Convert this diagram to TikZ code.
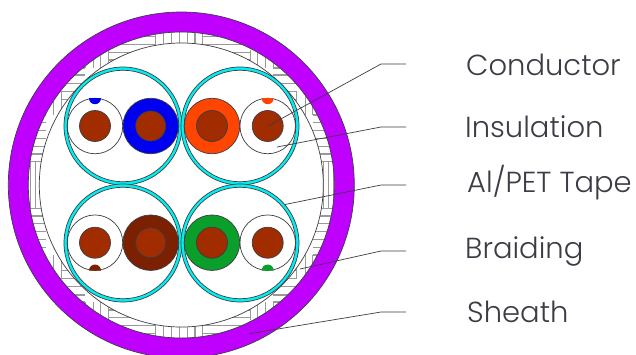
\documentclass[tikz,border=0pt]{standalone}
\usepackage{fontspec}
\setmainfont{Poppins Light}
\definecolor{jacket}{HTML}{BF00FF}
\definecolor{tape}{HTML}{00F0F0}
\definecolor{copper}{HTML}{A02C00}
\definecolor{brownwire}{HTML}{7B2000}
\definecolor{greenwire}{HTML}{0A9E2A}
\definecolor{orangewire}{HTML}{FF4500}
\definecolor{bluewire}{HTML}{0000F0}
\definecolor{edge}{HTML}{3C3C46}
\begin{document}
\begin{tikzpicture}[
    x=1pt, y=-1pt,
    ring/.style={circle, draw=edge, line width=0.7pt, inner sep=0pt, outer sep=0pt},
    wire/.style={ring, minimum size=55.5pt},
    core/.style={ring, fill=copper, minimum size=31pt},
    pair/.style={ring, fill=tape, minimum size=118pt},
    pairin/.style={ring, fill=white, minimum size=111.5pt},
    leader/.style={draw=edge, line width=0.7pt},
    partlabel/.style={anchor=base west, inner sep=0pt, font=\fontsize{29}{31}\selectfont, text=edge}
]
\useasboundingbox (0,0) rectangle (636,354);

% Sheath
\coordinate (c) at (181.3,185);
\fill[jacket, even odd rule] (c) circle[radius=173] (c) circle[radius=153];

% Braiding
\begin{scope}
\clip (c) circle[radius=153];
\foreach \sx in {1,-1} \foreach \sy in {1,-1} {
\begin{scope}[shift={(179.2,185)}, xscale=\sx, yscale=\sy, black!40, line width=1.1pt]
\foreach \u in {0,7.9,15.8,23.6} \draw (\u,-156) -- (\u,-135);
\foreach \v in {-148.3,-140.7,-132.7,-125} \draw (23.6,\v) -- (71,\v);
\foreach \u in {71,78.5,86,94} \draw (\u,-135) -- (\u,-117);
\foreach \v in {-117,-110,-101.7,-93.3,-85.7} \draw (94,\v) -- (117.5,\v);
\foreach \u in {117.5,126,133.5} \draw (\u,-94) -- (\u,-70);
\foreach \v in {-70,-62.3,-54.3,-46.7,-38.3,-31,-23.3} \draw (133.5,\v) -- (170,\v);
\foreach \u in {144,149,154} \draw (\u,-23.3) -- (\u,0);
\end{scope}
}
\end{scope}

% Ring edges
\fill[white] (c) circle[radius=142];
\foreach \r in {173,153,142} \draw[edge, line width=0.7pt] (c) circle[radius=\r];

% Pairs
\foreach \n/\x/\y in {a/123/126, b/240/126, d/123/243, e/240/243} {
    \node[pair] (pair\n) at (\x,\y) {};
    \node[pairin] (in\n) at (\x,\y) {};
}

% Wires, top row
\node[wire] (w1) at (95,126) {};
\node[core] (c1) at (95,126) {};
\node[wire, fill=bluewire] (w2) at (150.7,126) {};
\node[core, minimum size=30pt] (c2) at (150.7,126) {};
\node[wire, fill=orangewire] (w3) at (212,126) {};
\node[core] (c3) at (212,126) {};
\node[wire] (w4) at (267.7,126) {};
\node[core] (c4) at (267.7,126) {};

% Wires, bottom row
\node[wire] (w5) at (95,242.7) {};
\node[core] (c5) at (95,242.7) {};
\node[wire, fill=brownwire] (w6) at (150.7,242.7) {};
\node[core, minimum size=30pt] (c6) at (150.7,242.7) {};
\node[wire, fill=greenwire] (w7) at (212,242.7) {};
\node[core] (c7) at (212,242.7) {};
\node[wire] (w8) at (267.7,242.7) {};
\node[core] (c8) at (267.7,242.7) {};

% Stripes
\fill[bluewire] (89,98.2) arc[start angle=180, end angle=0, radius=6] -- cycle;
\fill[orangewire] (261.7,98.2) arc[start angle=180, end angle=0, radius=6] -- cycle;
\fill[brownwire] (89,270.5) arc[start angle=180, end angle=360, radius=6] -- cycle;
\fill[greenwire] (261.7,270.5) arc[start angle=180, end angle=360, radius=6] -- cycle;

% Labels
\node[partlabel] (conductor) at (466,75) {Conductor};
\node[partlabel] (insulation) at (465,137.7) {Insulation};
\node[partlabel] (tapelabel) at (467,192.7) {Al/PET Tape};
\node[partlabel] (braiding) at (465,258) {Braiding};
\node[partlabel] (sheath) at (467,322) {Sheath};

% Leaders
\coordinate (p1) at (268,126);
\coordinate (p2) at (277,147);
\coordinate (p3) at (285,204.5);
\coordinate (p4) at (300,269);
\coordinate (p5) at (249.3,333.7);
\coordinate (q1) at (406,64);
\coordinate (q2) at (406,127);
\coordinate (q3) at (406,185);
\coordinate (q4) at (406,251);
\coordinate (q5) at (406,312);
\draw[leader] (p1) -- (381,64) -- (q1);
\draw[leader] (p2) -- (381,127) -- (q2);
\draw[leader] (p3) -- (381,185) -- (q3);
\draw[leader] (p4) -- (381,251) -- (q4);
\draw[leader] (p5) -- (381,312) -- (q5);

\end{tikzpicture}
\end{document}
